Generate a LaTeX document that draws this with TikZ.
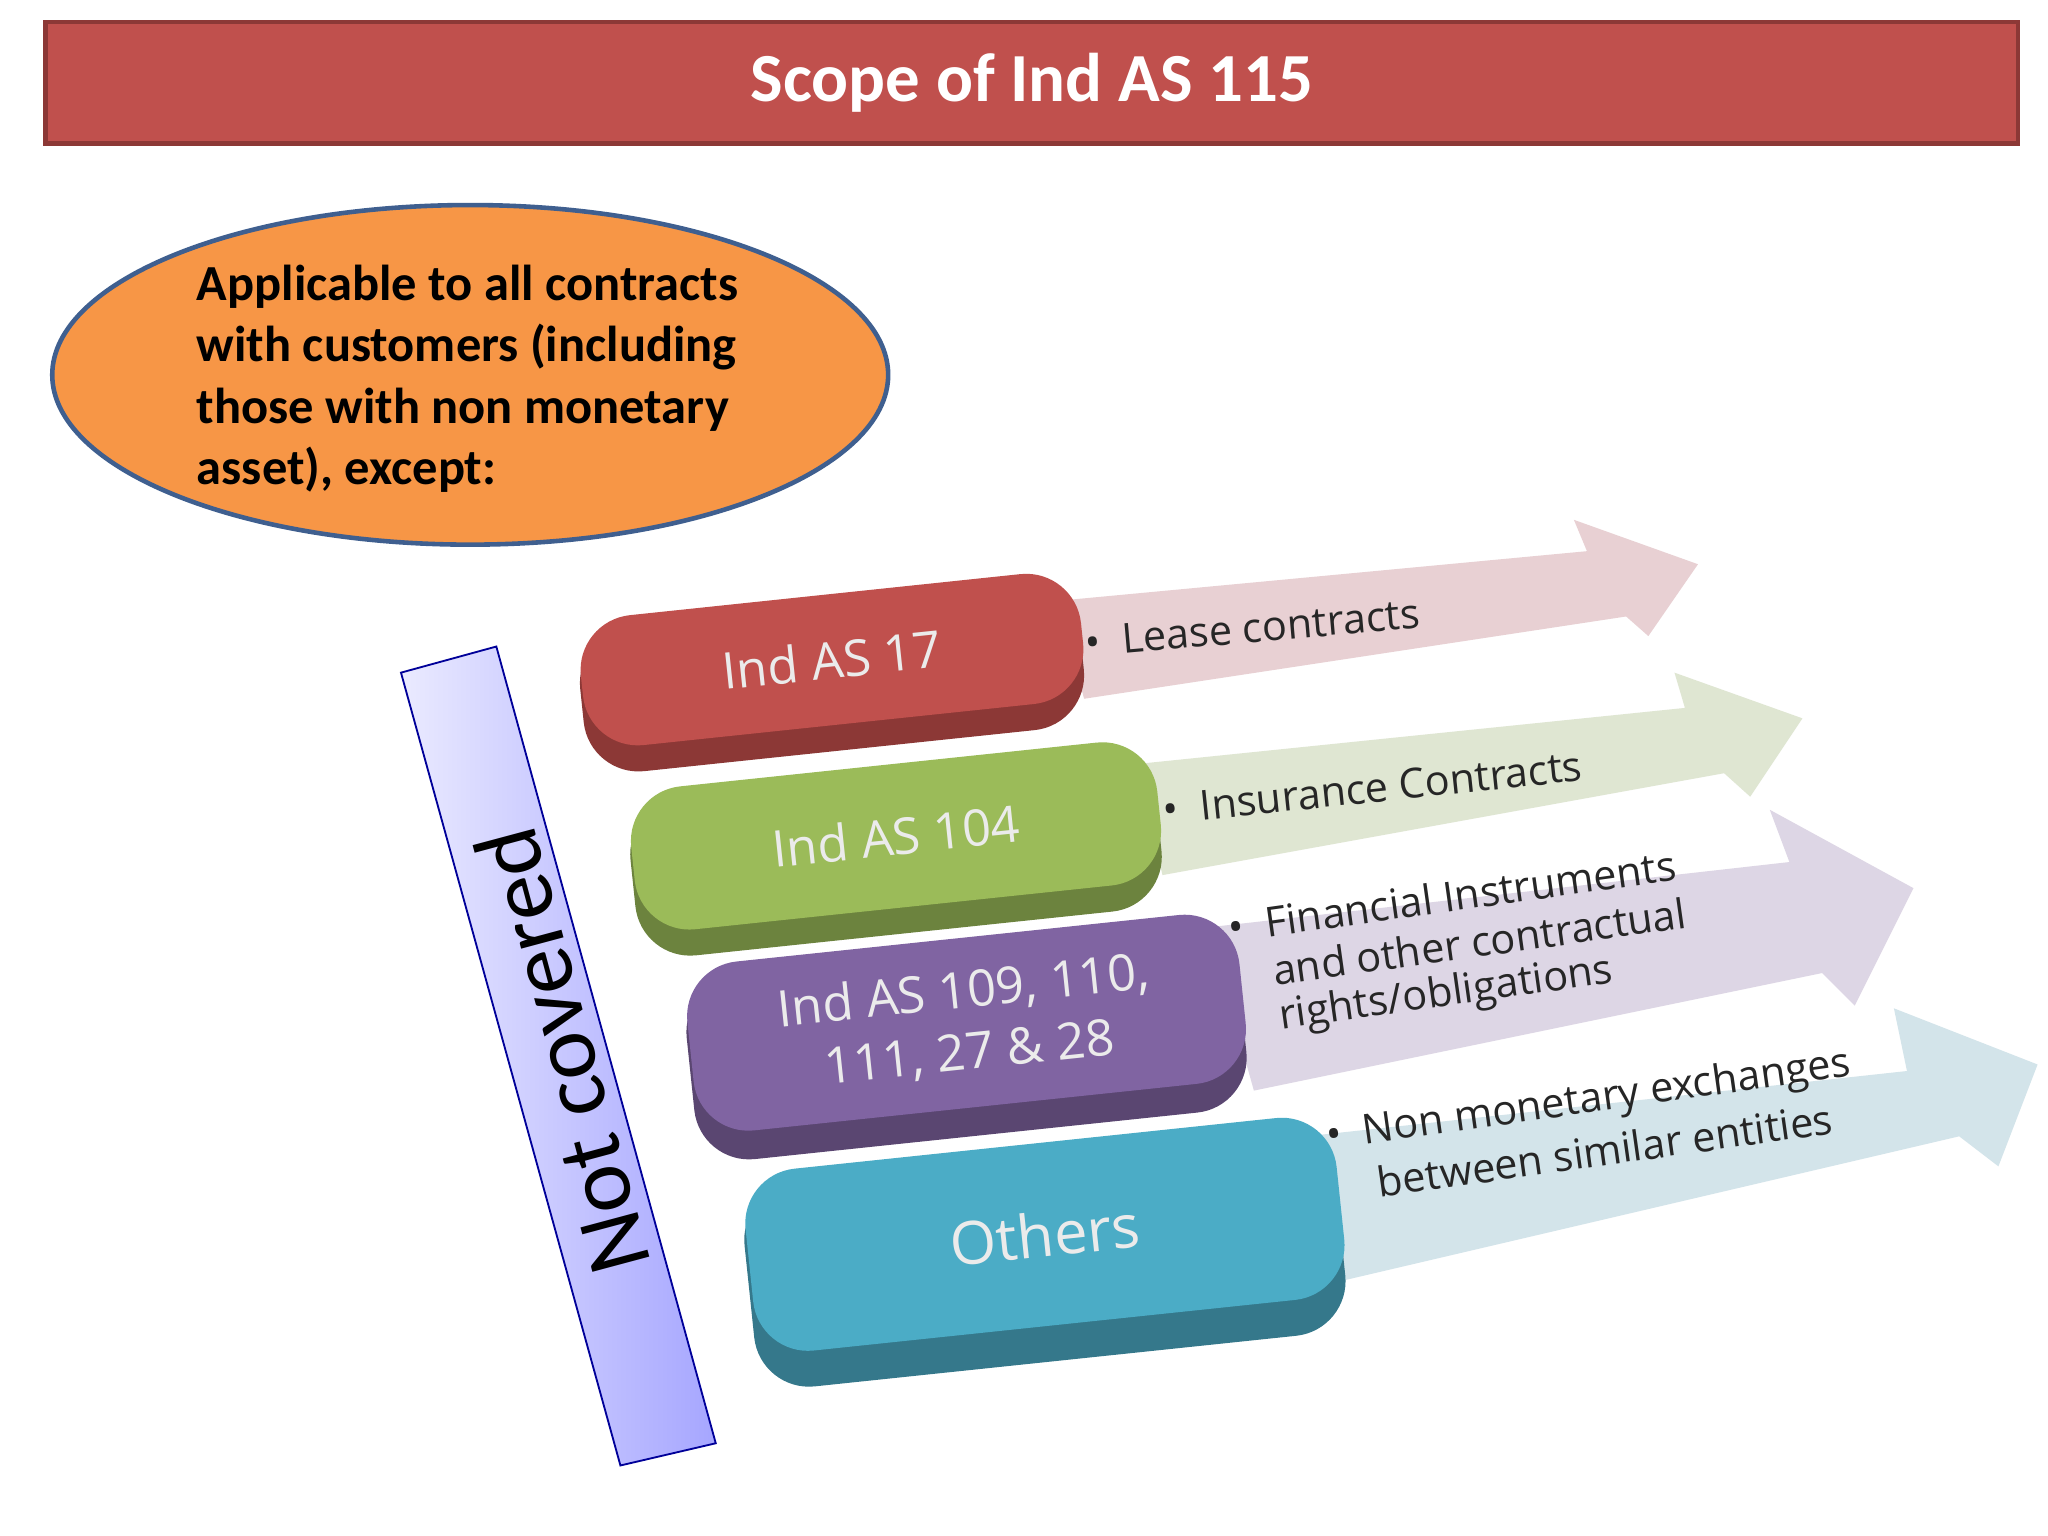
\documentclass[tikz,border=0pt]{standalone}
\usepackage{fontspec}
\setmainfont{Carlito}
\newfontfamily\bodyf{Open Sans}
\usetikzlibrary{shapes.geometric}
\definecolor{tred}{HTML}{C0504D}
\definecolor{tredd}{HTML}{8C3836}
\definecolor{orng}{HTML}{F79646}
\definecolor{eblu}{HTML}{3F5F8F}
\definecolor{bgrn}{HTML}{9BBB59}
\definecolor{bpur}{HTML}{8064A2}
\definecolor{btea}{HTML}{4BACC6}
\definecolor{apink}{HTML}{E8D0D3}
\definecolor{agrn}{HTML}{DFE6D2}
\definecolor{apur}{HTML}{DDD6E5}
\definecolor{ablu}{HTML}{D3E4EA}
\tikzset{
 catbox/.style={rounded corners=12pt, minimum width=#1, inner sep=0pt, text=white!92!black, font=\bodyf\fontsize{11}{13.5}\selectfont, align=center},
 shadowbox/.style={rounded corners=12pt, inner sep=0pt},
 arrtext/.style={font=\bodyf\fontsize{9}{10.5}\selectfont, align=left, anchor=west, text=black!85, inner sep=0pt}
}
\begin{document}
\begin{tikzpicture}[x=1cm,y=-1cm]
\useasboundingbox[fill=white] (0,0) rectangle (15.68,11.76);
% title
\node[draw=tredd, line width=1pt, fill=tred, minimum width=15.1cm, minimum height=0.93cm, inner sep=0pt, text=white, font=\bfseries\fontsize{15}{18}\selectfont] (title) at (7.9,0.635) {Scope of Ind AS 115};
% ellipse
\node[ellipse, draw=eblu, line width=1pt, fill=orng, minimum width=6.4cm, minimum height=2.6cm, inner sep=0pt] (ell) at (3.6,2.87) {};
\node[align=left, anchor=west, inner sep=0pt, font=\bfseries\fontsize{11}{13.4}\selectfont] (elltext) at (1.5,2.9) {Applicable to all contracts\\with customers (including\\those with non monetary\\asset), except:};
% arrows
\fill[apink] (8.1,4.6) -- (12.15,4.22) -- (12.05,3.98) -- (13.0,4.32) -- (12.62,4.87) -- (12.45,4.72) -- (8.3,5.35) -- cycle;
\fill[agrn] (8.7,5.85) -- (12.9,5.42) -- (12.82,5.15) -- (13.8,5.5) -- (13.4,6.1) -- (13.2,5.92) -- (8.9,6.7) -- cycle;
\fill[apur] (9.25,7.1) -- (13.7,6.6) -- (13.55,6.2) -- (14.65,6.8) -- (14.2,7.7) -- (13.95,7.45) -- (9.6,8.35) -- cycle;
\fill[ablu] (10.0,8.7) -- (14.6,8.2) -- (14.5,7.72) -- (15.6,8.15) -- (15.3,8.93) -- (15.0,8.7) -- (10.3,9.8) -- cycle;
% not covered bar
\shade[left color=blue!8, right color=blue!35, draw=blue!60!black] (3.07,5.15) -- (3.8,4.95) -- (5.48,11.05) -- (4.75,11.22) -- cycle;
\node[rotate=105, font=\fontsize{20}{24}\selectfont] (nc) at (4.3,8.05) {Not covered};
% boxes
\node[shadowbox, fill=tredd, minimum width=3.85cm, minimum height=1.1cm, rotate=6] (s1) at (6.37,5.2) {};
\node[catbox=3.85cm, fill=tred, minimum height=1.0cm, rotate=6] (b1) at (6.37,5.05) {Ind AS 17};
\node[shadowbox, fill=bgrn!70!black, minimum width=4.05cm, minimum height=1.2cm, rotate=6] (s2) at (6.86,6.55) {};
\node[catbox=4.05cm, fill=bgrn, minimum height=1.1cm, rotate=6] (b2) at (6.86,6.4) {Ind AS 104};
\node[shadowbox, fill=bpur!70!black, minimum width=4.25cm, minimum height=1.4cm, rotate=6] (s3) at (7.4,8.0) {};
\node[catbox=4.25cm, fill=bpur, minimum height=1.3cm, rotate=6] (b3) at (7.4,7.83) {Ind AS 109, 110,\\111, 27 \& 28};
\node[shadowbox, fill=btea!70!black, minimum width=4.55cm, minimum height=1.55cm, rotate=6] (s4) at (8.0,9.65) {};
\node[catbox=4.55cm, fill=btea, minimum height=1.4cm, rotate=6, font=\bodyf\fontsize{13}{15}\selectfont] (b4) at (8.0,9.45) {Others};
% arrow texts
\node[arrtext, rotate=5] (t1) at (8.3,4.92) {\textbullet\ \ Lease contracts};
\node[arrtext, rotate=6] (t2) at (8.9,6.2) {\textbullet\ \ Insurance Contracts};
\node[arrtext, rotate=8] (t3a) at (9.4,7.1) {\textbullet\ \ Financial Instruments};
\node[arrtext, rotate=8] (t3b) at (9.74,7.43) {and other contractual};
\node[arrtext, rotate=8] (t3c) at (9.79,7.8) {rights/obligations};
\node[arrtext, rotate=8] (t4a) at (10.15,8.72) {\textbullet\ \ Non monetary exchanges};
\node[arrtext, rotate=8] (t4b) at (10.54,9.05) {between similar entities};
\end{tikzpicture}
\end{document}
